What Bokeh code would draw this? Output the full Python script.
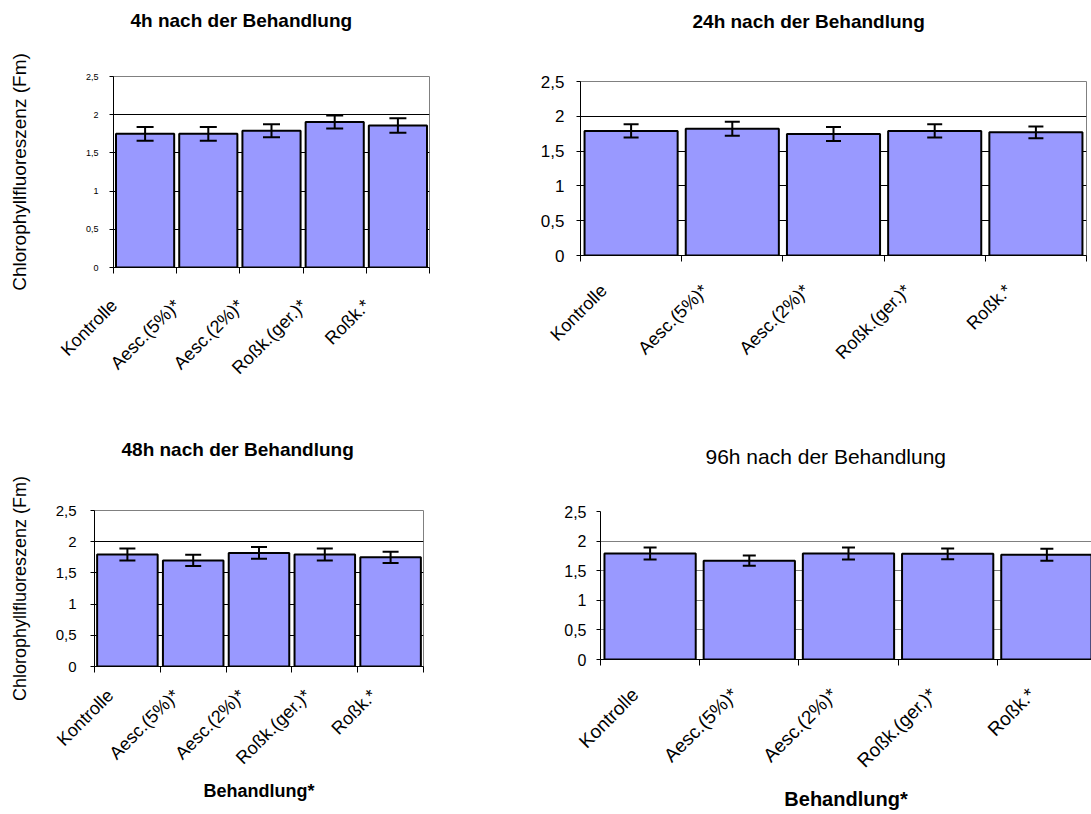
import math
from bokeh.plotting import figure
from bokeh.models import FixedTicker, ColumnDataSource, Whisker, TeeHead, Range1d, Title
from bokeh.layouts import column, row
from bokeh.embed import file_html
from bokeh.resources import INLINE

# ---------------- data ----------------
categories = ["Kontrolle", "Aesc.(5%)*", "Aesc.(2%)*", "Roßk.(ger.)*", "Roßk.*"]
y_ticks = [0, 0.5, 1, 1.5, 2, 2.5]
y_tick_labels = ["0", "0,5", "1", "1,5", "2", "2,5"]
grid_ticks = [0.5, 1, 1.5, 2]

title_4h = "4h nach der Behandlung"
title_24h = "24h nach der Behandlung"
title_48h = "48h nach der Behandlung"
title_96h = "96h nach der Behandlung"
y_label = "Chlorophyllfluoreszenz (Fm)"
x_label = "Behandlung*"

mean_4h = [1.75, 1.75, 1.79, 1.905, 1.86]
err_4h = [0.09, 0.09, 0.085, 0.085, 0.095]

mean_24h = [1.79, 1.82, 1.745, 1.79, 1.77]
err_24h = [0.095, 0.10, 0.10, 0.095, 0.085]

mean_48h = [1.795, 1.70, 1.82, 1.795, 1.75]
err_48h = [0.095, 0.09, 0.095, 0.095, 0.09]

mean_96h = [1.79, 1.67, 1.79, 1.785, 1.77]
err_96h = [0.10, 0.085, 0.10, 0.09, 0.10]

FONT = "Liberation Sans"
BAR_COLOR = "#9999FF"


def make_panel(title, means, errs, width, height, bl, br, bt, bb, x_end=5.0,
               title_size="19px", title_bold=True, title_offset=0, title_gap=40,
               ytick_size="15px", ytick_standoff=12, xtick_size="18px", xtick_standoff=26,
               label_shift=0.2, cap=15, grid_color="black", outline="#808080",
               ylab=None, ylab_size="18px", ylab_standoff=50,
               xlab=None, xlab_size="18px", xlab_standoff=10, grid_extra=False):
    n = len(categories)
    xs = [i + 0.5 for i in range(n)]
    p = figure(width=width, height=height, x_range=Range1d(0, x_end), y_range=Range1d(0, 2.5),
               output_backend="svg", toolbar_location=None, title=None,
               min_border_left=bl, min_border_right=br, min_border_top=bt, min_border_bottom=bb)
    p.background_fill_color = "white"
    p.border_fill_color = "white"
    p.outline_line_color = outline
    p.outline_line_width = 1

    p.vbar(x=xs, top=means, width=0.92, bottom=0, fill_color=BAR_COLOR,
           line_color="black", line_width=2)

    src = ColumnDataSource(dict(x=xs,
                                upper=[m + e for m, e in zip(means, errs)],
                                lower=[m - e for m, e in zip(means, errs)]))
    w = Whisker(source=src, base="x", upper="upper", lower="lower",
                line_color="black", line_width=2, level="overlay",
                upper_head=TeeHead(size=cap, line_color="black", line_width=2),
                lower_head=TeeHead(size=cap, line_color="black", line_width=2))
    p.add_layout(w)

    # spacer between frame and title, then the title itself (outermost)
    spacer = Title(text=" ", text_font_size="1px", text_color="white", standoff=max(title_gap - 3, 0))
    p.add_layout(spacer, "above")
    t = Title(text=title, text_font=FONT, text_font_size=title_size,
              text_font_style="bold" if title_bold else "normal", text_color="black",
              align="left", offset=title_offset, standoff=0)
    p.add_layout(t, "above")

    # grid
    p.xgrid.grid_line_color = None
    p.ygrid.ticker = FixedTicker(ticks=grid_ticks + ([2.5] if grid_extra else []))
    p.ygrid.grid_line_color = grid_color
    p.ygrid.grid_line_width = 1

    # y axis
    yax = p.yaxis[0]
    yax.ticker = FixedTicker(ticks=y_ticks)
    yax.major_label_overrides = {t_: l for t_, l in zip(y_ticks, y_tick_labels)}
    yax.major_label_text_font = FONT
    yax.major_label_text_font_size = ytick_size
    yax.major_label_text_color = "black"
    yax.major_label_standoff = ytick_standoff
    yax.major_tick_out = 4
    yax.major_tick_in = 0
    yax.major_tick_line_color = "black"
    yax.minor_tick_line_color = None
    yax.minor_tick_out = 0
    yax.axis_line_color = "black"
    yax.axis_line_width = 1
    if ylab:
        yax.axis_label = ylab
        yax.axis_label_text_font = FONT
        yax.axis_label_text_font_size = ylab_size
        yax.axis_label_text_font_style = "normal"
        yax.axis_label_text_color = "black"
        yax.axis_label_standoff = ylab_standoff

    # x axis: ticks at category boundaries, labels rotated
    xax = p.xaxis[0]
    label_pos = [x - label_shift for x in xs]
    xax.ticker = FixedTicker(ticks=label_pos, minor_ticks=list(range(n + 1)))
    xax.major_label_overrides = {t_: c for t_, c in zip(label_pos, categories)}
    xax.major_label_orientation = math.pi / 4
    xax.major_label_text_font = FONT
    xax.major_label_text_font_size = xtick_size
    xax.major_label_text_color = "black"
    xax.major_label_standoff = xtick_standoff
    xax.major_tick_line_color = None
    xax.major_tick_out = 0
    xax.major_tick_in = 0
    xax.minor_tick_line_color = "black"
    xax.minor_tick_out = 6
    xax.minor_tick_in = 0
    xax.axis_line_color = "black"
    xax.axis_line_width = 1
    if xlab:
        xax.axis_label = xlab
        xax.axis_label_text_font = FONT
        xax.axis_label_text_font_size = xlab_size
        xax.axis_label_text_font_style = "bold"
        xax.axis_label_text_color = "black"
        xax.axis_label_standoff = xlab_standoff
    return p


p1 = make_panel(title_4h, mean_4h, err_4h, 500, 420, 113, 71, 76, 153,
                title_offset=17, title_gap=46, ytick_size="9px", ytick_standoff=11,
                xtick_size="18px", xtick_standoff=29, label_shift=0.49, cap=17,
                ylab=y_label, ylab_size="19px", ylab_standoff=53)

p2 = make_panel(title_24h, mean_24h, err_24h, 591, 420, 80, 5, 81, 165,
                title_offset=112, title_gap=50, ytick_size="17px", ytick_standoff=12,
                xtick_size="18px", xtick_standoff=26, label_shift=0.27, cap=15)

p3 = make_panel(title_48h, mean_48h, err_48h, 500, 394, 94, 77, 90, 148,
                title_offset=27, title_gap=51, ytick_size="15px", ytick_standoff=14,
                xtick_size="18px", xtick_standoff=20, label_shift=0.26, cap=16,
                ylab=y_label, ylab_size="18px", ylab_standoff=23,
                xlab=x_label, xlab_size="18px", xlab_standoff=3)

p4 = make_panel(title_96h, mean_96h, err_96h, 591, 394, 100, 0, 91, 155, x_end=4.95,
                title_size="21px", title_bold=False, title_offset=105, title_gap=44,
                ytick_size="16px", ytick_standoff=10, xtick_size="19px", xtick_standoff=26,
                label_shift=0.15, cap=13, grid_color="#808080", outline=None,
                xlab=x_label, xlab_size="20px", xlab_standoff=6, grid_extra=True)

layout = column(row(column(p1), column(p2)), row(column(p3), column(p4)))
open("out.html", "w").write(file_html(layout, INLINE))
